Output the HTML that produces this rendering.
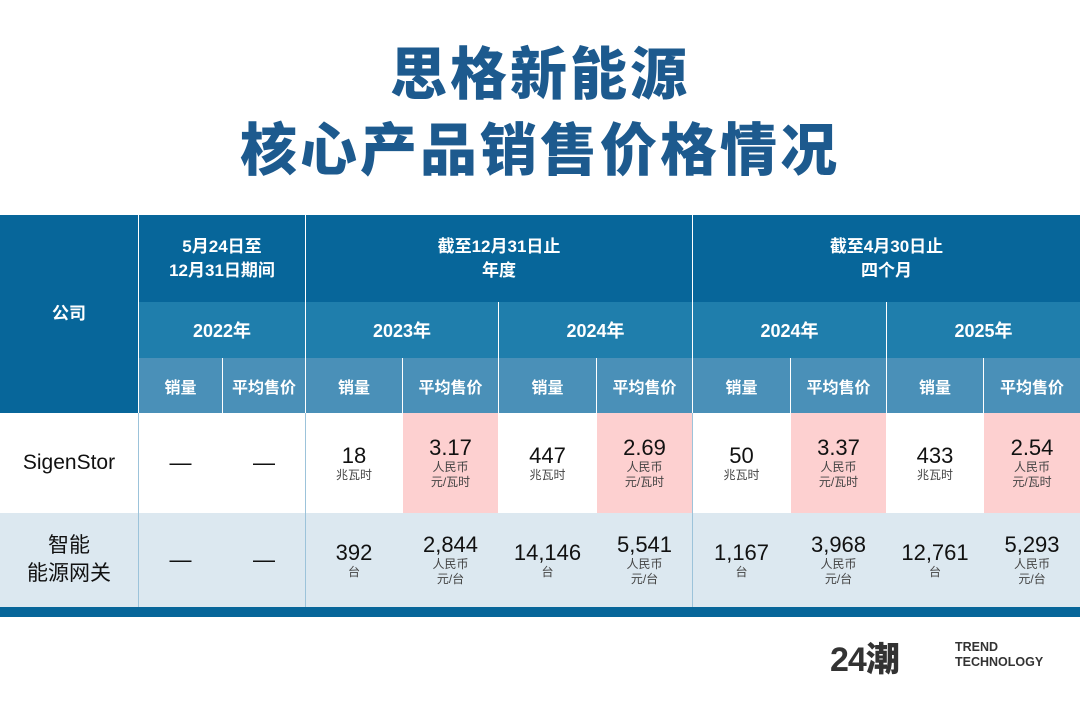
<!DOCTYPE html><html><head><meta charset="utf-8"><style>
body{margin:0;width:1080px;height:714px;background:#fff;position:relative;overflow:hidden;font-family:"Liberation Sans","Noto Sans CJK SC",sans-serif}
.a{position:absolute;box-sizing:border-box;display:flex;flex-direction:column;align-items:center;justify-content:center;text-align:center}
.t{color:#1d5a8e;font-weight:900;font-size:57px;left:0;width:1080px;letter-spacing:3px}
.h1{background:#07669a;color:#fff;font-weight:700;font-size:17px;line-height:24px}
.h2{background:#1f7eac;color:#fff;font-weight:700;font-size:18px}
.h3{background:#4a90b8;color:#fff;font-weight:700;font-size:16px}
.v{font-size:22px;color:#111;line-height:24px}
.u{font-size:12px;color:#444;line-height:15px}
</style></head><body>
<div class="a t" style="top:32px;height:76px">思格新能源</div>
<div class="a t" style="top:108px;height:76px">核心产品销售价格情况</div>

<div class="a h1" style="left:0;top:215px;width:138px;height:198px">公司</div>
<div class="a h1" style="left:139px;top:215px;width:166px;height:87px">5月24日至<br>12月31日期间</div>
<div class="a h1" style="left:306px;top:215px;width:386px;height:87px">截至12月31日止<br>年度</div>
<div class="a h1" style="left:693px;top:215px;width:387px;height:87px">截至4月30日止<br>四个月</div>

<div class="a h2" style="left:139px;top:302px;width:166px;height:56px">2022年</div>
<div class="a h2" style="left:306px;top:302px;width:192px;height:56px">2023年</div>
<div class="a h2" style="left:499px;top:302px;width:193px;height:56px">2024年</div>
<div class="a h2" style="left:693px;top:302px;width:193px;height:56px">2024年</div>
<div class="a h2" style="left:887px;top:302px;width:193px;height:56px">2025年</div>

<div class="a h3" style="left:139px;top:358px;width:83px;height:55px">销量</div>
<div class="a h3" style="left:223px;top:358px;width:82px;height:55px">平均售价</div>
<div class="a h3" style="left:306px;top:358px;width:96px;height:55px">销量</div>
<div class="a h3" style="left:403px;top:358px;width:95px;height:55px">平均售价</div>
<div class="a h3" style="left:499px;top:358px;width:97px;height:55px">销量</div>
<div class="a h3" style="left:597px;top:358px;width:95px;height:55px">平均售价</div>
<div class="a h3" style="left:693px;top:358px;width:97px;height:55px">销量</div>
<div class="a h3" style="left:791px;top:358px;width:95px;height:55px">平均售价</div>
<div class="a h3" style="left:887px;top:358px;width:96px;height:55px">销量</div>
<div class="a h3" style="left:984px;top:358px;width:96px;height:55px">平均售价</div>

<div style="position:absolute;left:0;top:413px;width:1080px;height:100px;background:#fff"></div>
<div style="position:absolute;left:0;top:513px;width:1080px;height:94px;background:#dce8f0"></div>
<div style="position:absolute;left:403px;top:413px;width:95px;height:100px;background:#fdd0d0"></div>
<div style="position:absolute;left:597px;top:413px;width:95px;height:100px;background:#fdd0d0"></div>
<div style="position:absolute;left:791px;top:413px;width:95px;height:100px;background:#fdd0d0"></div>
<div style="position:absolute;left:984px;top:413px;width:96px;height:100px;background:#fdd0d0"></div>
<div style="position:absolute;left:138px;top:413px;width:1px;height:194px;background:#9cc3da"></div>
<div style="position:absolute;left:305px;top:413px;width:1px;height:194px;background:#9cc3da"></div>
<div style="position:absolute;left:692px;top:413px;width:1px;height:194px;background:#9cc3da"></div>
<div style="position:absolute;left:0;top:607px;width:1080px;height:10px;background:#07669a"></div>

<div class="a" style="left:0;top:413px;width:138px;height:100px;font-size:21px;color:#111">SigenStor</div>
<div class="a" style="left:0;top:513px;width:138px;height:94px;font-size:21px;color:#111;line-height:28px">智能<br>能源网关</div>
<div class="a v" style="left:139px;top:413px;width:83px;height:100px">—</div>
<div class="a v" style="left:223px;top:413px;width:82px;height:100px">—</div>
<div class="a v" style="left:139px;top:513px;width:83px;height:94px">—</div>
<div class="a v" style="left:223px;top:513px;width:82px;height:94px">—</div>

<div class="a" style="left:306px;top:413px;width:96px;height:100px"><div class="v">18</div><div class="u">兆瓦时</div></div>
<div class="a" style="left:403px;top:413px;width:95px;height:100px"><div class="v">3.17</div><div class="u">人民币<br>元/瓦时</div></div>
<div class="a" style="left:499px;top:413px;width:97px;height:100px"><div class="v">447</div><div class="u">兆瓦时</div></div>
<div class="a" style="left:597px;top:413px;width:95px;height:100px"><div class="v">2.69</div><div class="u">人民币<br>元/瓦时</div></div>
<div class="a" style="left:693px;top:413px;width:97px;height:100px"><div class="v">50</div><div class="u">兆瓦时</div></div>
<div class="a" style="left:791px;top:413px;width:95px;height:100px"><div class="v">3.37</div><div class="u">人民币<br>元/瓦时</div></div>
<div class="a" style="left:887px;top:413px;width:96px;height:100px"><div class="v">433</div><div class="u">兆瓦时</div></div>
<div class="a" style="left:984px;top:413px;width:96px;height:100px"><div class="v">2.54</div><div class="u">人民币<br>元/瓦时</div></div>

<div class="a" style="left:306px;top:513px;width:96px;height:94px"><div class="v">392</div><div class="u">台</div></div>
<div class="a" style="left:403px;top:513px;width:95px;height:94px"><div class="v">2,844</div><div class="u">人民币<br>元/台</div></div>
<div class="a" style="left:499px;top:513px;width:97px;height:94px"><div class="v">14,146</div><div class="u">台</div></div>
<div class="a" style="left:597px;top:513px;width:95px;height:94px"><div class="v">5,541</div><div class="u">人民币<br>元/台</div></div>
<div class="a" style="left:693px;top:513px;width:97px;height:94px"><div class="v">1,167</div><div class="u">台</div></div>
<div class="a" style="left:791px;top:513px;width:95px;height:94px"><div class="v">3,968</div><div class="u">人民币<br>元/台</div></div>
<div class="a" style="left:887px;top:513px;width:96px;height:94px"><div class="v">12,761</div><div class="u">台</div></div>
<div class="a" style="left:984px;top:513px;width:96px;height:94px"><div class="v">5,293</div><div class="u">人民币<br>元/台</div></div>

<div style="position:absolute;left:830px;top:640px;font-size:34px;font-weight:900;color:#333;letter-spacing:-1px;line-height:40px">24潮</div>
<div style="position:absolute;left:955px;top:640px;font-size:12.5px;font-weight:700;color:#333;line-height:15px">TREND<br>TECHNOLOGY</div>
</body></html>
